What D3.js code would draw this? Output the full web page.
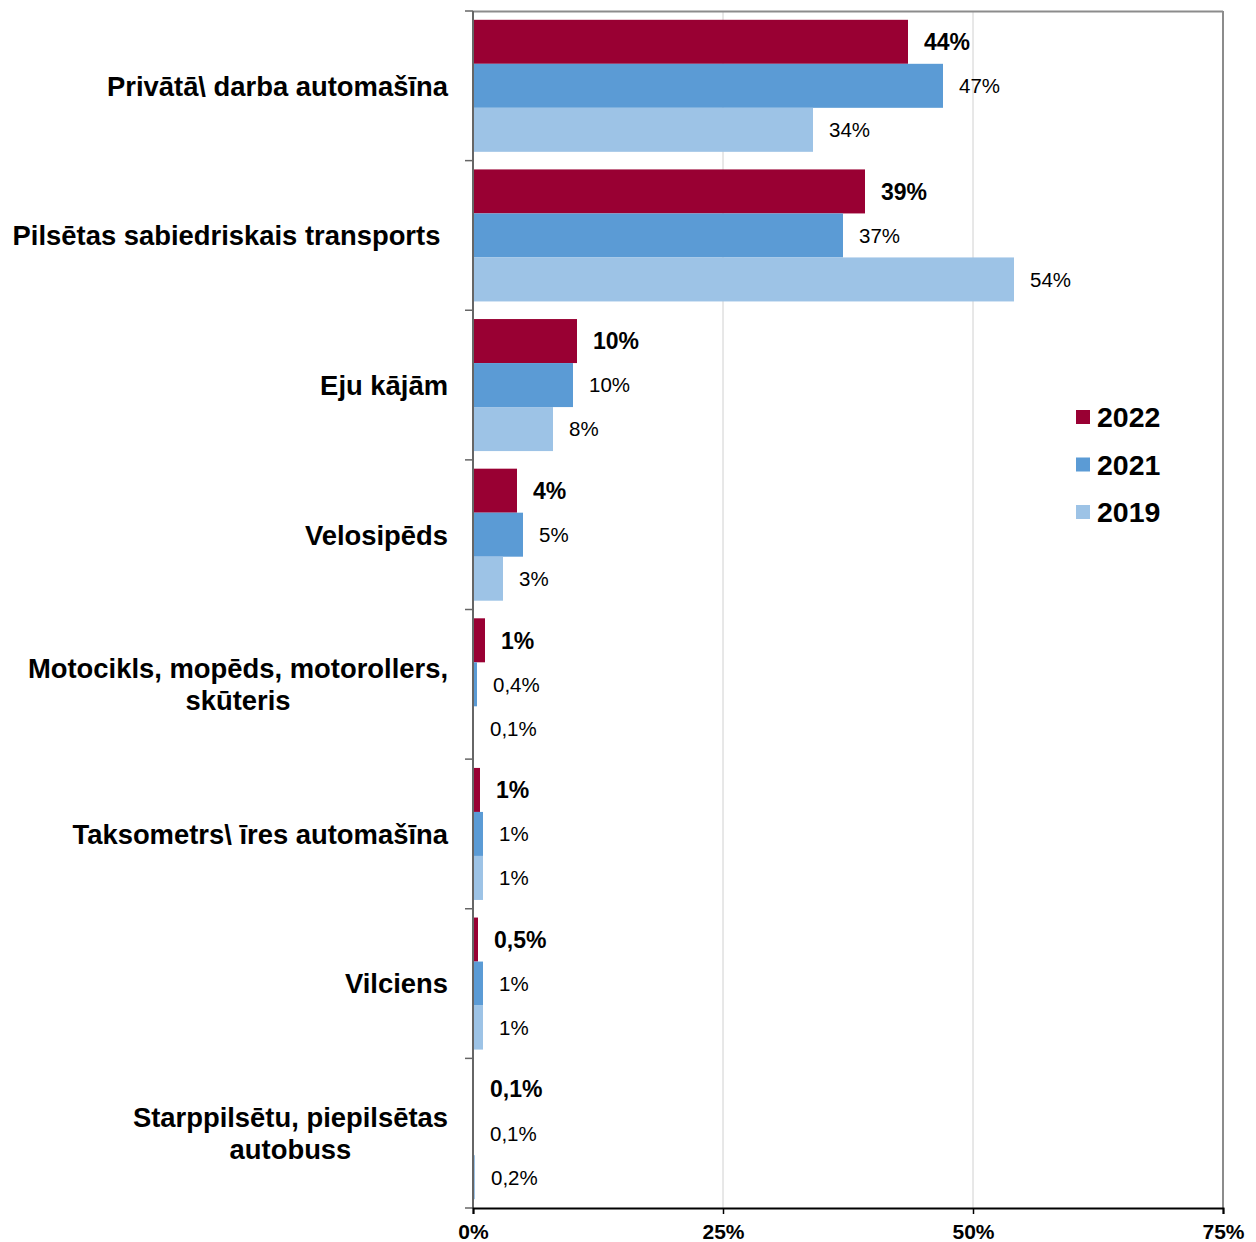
<!doctype html>
<html lang="lv">
<head>
<meta charset="utf-8" />
<title>Pārvietošanās veids</title>
<script src="https://cdn.jsdelivr.net/npm/d3@7"></script>
<style>
  html, body { margin: 0; padding: 0; background: #fff; }
  svg { font-family: Arial, "Liberation Sans", sans-serif; }
</style>
</head>
<body>
<div id="chart"></div>
<script>
// kategorijas (rindas ar \n = divas rindiņas)
var kategorijas = [
  "Privātā\\ darba automašīna",
  "Pilsētas sabiedriskais transports\u00a0",
  "Eju kājām",
  "Velosipēds",
  "Motocikls, mopēds, motorollers,\nskūteris",
  "Taksometrs\\ īres automašīna",
  "Vilciens",
  "Starppilsētu, piepilsētas\nautobuss"
];
var gadi = ["2022", "2021", "2019"];
var krasas = ["#990033", "#5B9BD5", "#9DC3E6"];

var v2022 = [43.5, 39.2, 10.4, 4.4, 1.2, 0.7, 0.5, 0.1];
var v2021 = [47.0, 37.0, 10.0, 5.0, 0.4, 1.0, 1.0, 0.1];
var v2019 = [34.0, 54.1, 8.0, 3.0, 0.1, 1.0, 1.0, 0.2];

var l2022 = ["44%", "39%", "10%", "4%", "1%", "1%", "0,5%", "0,1%"];
var l2021 = ["47%", "37%", "10%", "5%", "0,4%", "1%", "1%", "0,1%"];
var l2019 = ["34%", "54%", "8%", "3%", "0,1%", "1%", "1%", "0,2%"];

var asisTicks = [0, 25, 50, 75];

var vertibas = [v2022, v2021, v2019];
var etiketes = [l2022, l2021, l2019];

var W = 1256, H = 1242;
var kreisi = 473, labi = 1223, augsa = 11, apaksa = 1208;
var katFonts = 27.4;

var svg = d3.select("#chart").append("svg").attr("width", W).attr("height", H);

var x = d3.scaleLinear().domain([0, 75]).range([kreisi, labi]);
var y0 = d3.scaleBand().domain(d3.range(kategorijas.length)).range([augsa, apaksa]);
var y1 = d3.scaleBand().domain(d3.range(gadi.length)).range([0, y0.bandwidth()]).paddingOuter(0.2);

// režģis
svg.append("g").selectAll("line").data(asisTicks.filter(function(t){ return t > 0 && t < 75; }))
  .join("line")
  .attr("x1", function(d){ return x(d); }).attr("x2", function(d){ return x(d); })
  .attr("y1", augsa).attr("y2", apaksa)
  .attr("stroke", "#d0d0d0").attr("stroke-width", 1);

// rāmis augšā un labajā pusē
svg.append("line").attr("x1", kreisi).attr("x2", labi).attr("y1", augsa + 0.5).attr("y2", augsa + 0.5)
  .attr("stroke", "#8c8c8c").attr("stroke-width", 2);
svg.append("line").attr("x1", labi).attr("x2", labi).attr("y1", augsa).attr("y2", apaksa)
  .attr("stroke", "#8c8c8c").attr("stroke-width", 2);

// stabiņi
var grupas = svg.append("g").selectAll("g").data(kategorijas).join("g")
  .attr("transform", function(d, i){ return "translate(0," + y0(i) + ")"; });

grupas.each(function(k, i) {
  var g = d3.select(this);
  gadi.forEach(function(gads, j) {
    var v = vertibas[j][i];
    g.append("rect")
      .attr("x", x(0))
      .attr("y", y1(j))
      .attr("width", x(v) - x(0))
      .attr("height", y1.bandwidth())
      .attr("fill", krasas[j]);
    g.append("text")
      .attr("x", x(v) + 16)
      .attr("y", y1(j) + y1.bandwidth() / 2)
      .attr("dy", "0.36em")
      .attr("font-size", j === 0 ? 23 : 20.5)
      .attr("font-weight", j === 0 ? "bold" : "normal")
      .attr("fill", "#000")
      .text(etiketes[j][i]);
  });
});

// Y ass
var yAss = svg.append("g");
yAss.append("line").attr("x1", kreisi).attr("x2", kreisi).attr("y1", augsa).attr("y2", apaksa)
  .attr("stroke", "#666").attr("stroke-width", 2);
yAss.selectAll("line.tick").data(d3.range(kategorijas.length + 1)).join("line")
  .attr("class", "tick")
  .attr("x1", kreisi - 8).attr("x2", kreisi)
  .attr("y1", function(d){ return augsa + d * y0.step(); })
  .attr("y2", function(d){ return augsa + d * y0.step(); })
  .attr("stroke", "#666").attr("stroke-width", 1.5);

// kategoriju nosaukumi
kategorijas.forEach(function(k, i) {
  var rindas = k.split("\n");
  var c = y0(i) + y0.bandwidth() / 2;
  var t = svg.append("text")
    .attr("font-size", katFonts).attr("font-weight", "bold").attr("fill", "#000");
  if (rindas.length === 1) {
    t.attr("x", 448).attr("y", c).attr("dy", "0.36em").attr("text-anchor", "end").text(k);
  } else {
    // garākās rindas platums -> centrējam
    var tmp = svg.append("text").attr("font-size", katFonts).attr("font-weight", "bold").text(rindas[0]);
    var w = tmp.node().getComputedTextLength();
    tmp.remove();
    var cx = 448 - w / 2;
    t.attr("text-anchor", "middle");
    rindas.forEach(function(r, n) {
      t.append("tspan").attr("x", cx).attr("y", c + (n - (rindas.length - 1) / 2) * 31.5)
        .attr("dy", "0.36em").text(r);
    });
  }
});

// X ass
var xAss = svg.append("g").attr("transform", "translate(0," + apaksa + ")")
  .call(d3.axisBottom(x).tickValues(asisTicks).tickSize(6).tickFormat(function(d){ return d + "%"; }));
xAss.select(".domain").attr("stroke", "#000").attr("stroke-width", 2);
xAss.selectAll(".tick line").attr("stroke", "#000").attr("stroke-width", 1.5);
xAss.selectAll(".tick text").attr("font-size", 21).attr("font-weight", "bold")
  .attr("font-family", "Arial, 'Liberation Sans', sans-serif").attr("fill", "#000")
  .attr("y", 30.5).attr("dy", 0);

// leģenda
var leg = svg.append("g").selectAll("g").data(gadi).join("g")
  .attr("transform", function(d, i){ return "translate(1076," + (417 + i * 47.5) + ")"; });
leg.append("rect").attr("x", 0).attr("y", -7).attr("width", 14).attr("height", 14)
  .attr("fill", function(d, i){ return krasas[i]; });
leg.append("text").attr("x", 21).attr("y", 0).attr("dy", "0.36em")
  .attr("font-size", 28.5).attr("font-weight", "bold").attr("fill", "#000")
  .text(function(d){ return d; });
</script>
</body>
</html>
